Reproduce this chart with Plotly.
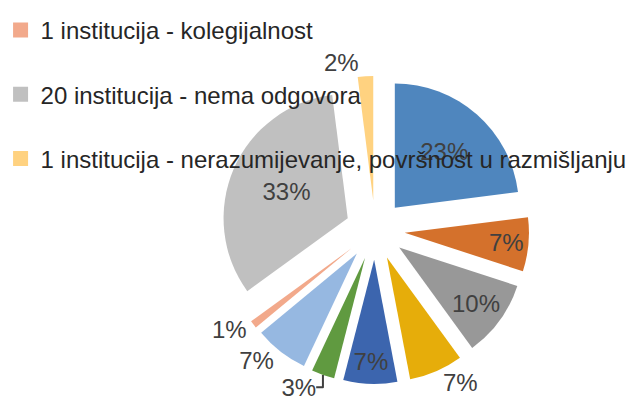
import plotly.graph_objects as go

# Data
labels = [
    "Kategorija A", "Kategorija B", "Kategorija C", "Kategorija D",
    "Kategorija E", "Kategorija F", "Kategorija G",
    "1 institucija - kolegijalnost",
    "20 institucija - nema odgovora",
    "1 institucija - nerazumijevanje, površnost u razmišljanju",
]
values = [23, 7, 10, 7, 7, 3, 7, 1, 33, 2]
colors = ["#4F86BE", "#D4712C", "#989898", "#E6AD0A", "#3C65AE",
          "#609A40", "#96B8E1", "#F2A98B", "#C0C0C0", "#FFD280"]
text_pos = ["inside", "inside", "inside", "outside", "inside",
            "outside", "outside", "outside", "inside", "outside"]

legend_labels = labels[7:]
legend_colors = colors[7:]

FONT = "Liberation Sans Narrow, Arial Narrow, Liberation Sans, Arial"

fig = go.Figure()
fig.add_trace(go.Pie(
    labels=labels, values=values, sort=False, direction="clockwise",
    rotation=0, pull=[0.24] * len(values),
    marker=dict(colors=colors, line=dict(width=0)),
    textinfo="percent", textposition=text_pos,
    insidetextorientation="horizontal",
    textfont=dict(family=FONT, size=24, color="#404040"),
    showlegend=False,
    domain=dict(x=[0.3356, 0.8206], y=[0.0894, 0.8354]),
    hoverinfo="label+percent",
))

for i, (lab, col) in enumerate(zip(legend_labels, legend_colors)):
    fig.add_trace(go.Scatter(
        x=[None], y=[None], mode="markers", name=lab,
        legendgroup="g%d" % i,
        marker=dict(symbol="square", size=15, color=col),
    ))

fig.update_layout(
    width=635, height=413,
    margin=dict(l=0, r=0, t=0, b=0, autoexpand=False),
    paper_bgcolor="white", plot_bgcolor="white",
    xaxis=dict(visible=False), yaxis=dict(visible=False),
    legend=dict(x=-0.0117, xanchor="left", y=1.0, yanchor="top",
                traceorder="grouped", tracegroupgap=30,
                font=dict(family=FONT, size=24, color="#262626"),
                bgcolor="rgba(0,0,0,0)"),
)

fig.write_html("out.html")
